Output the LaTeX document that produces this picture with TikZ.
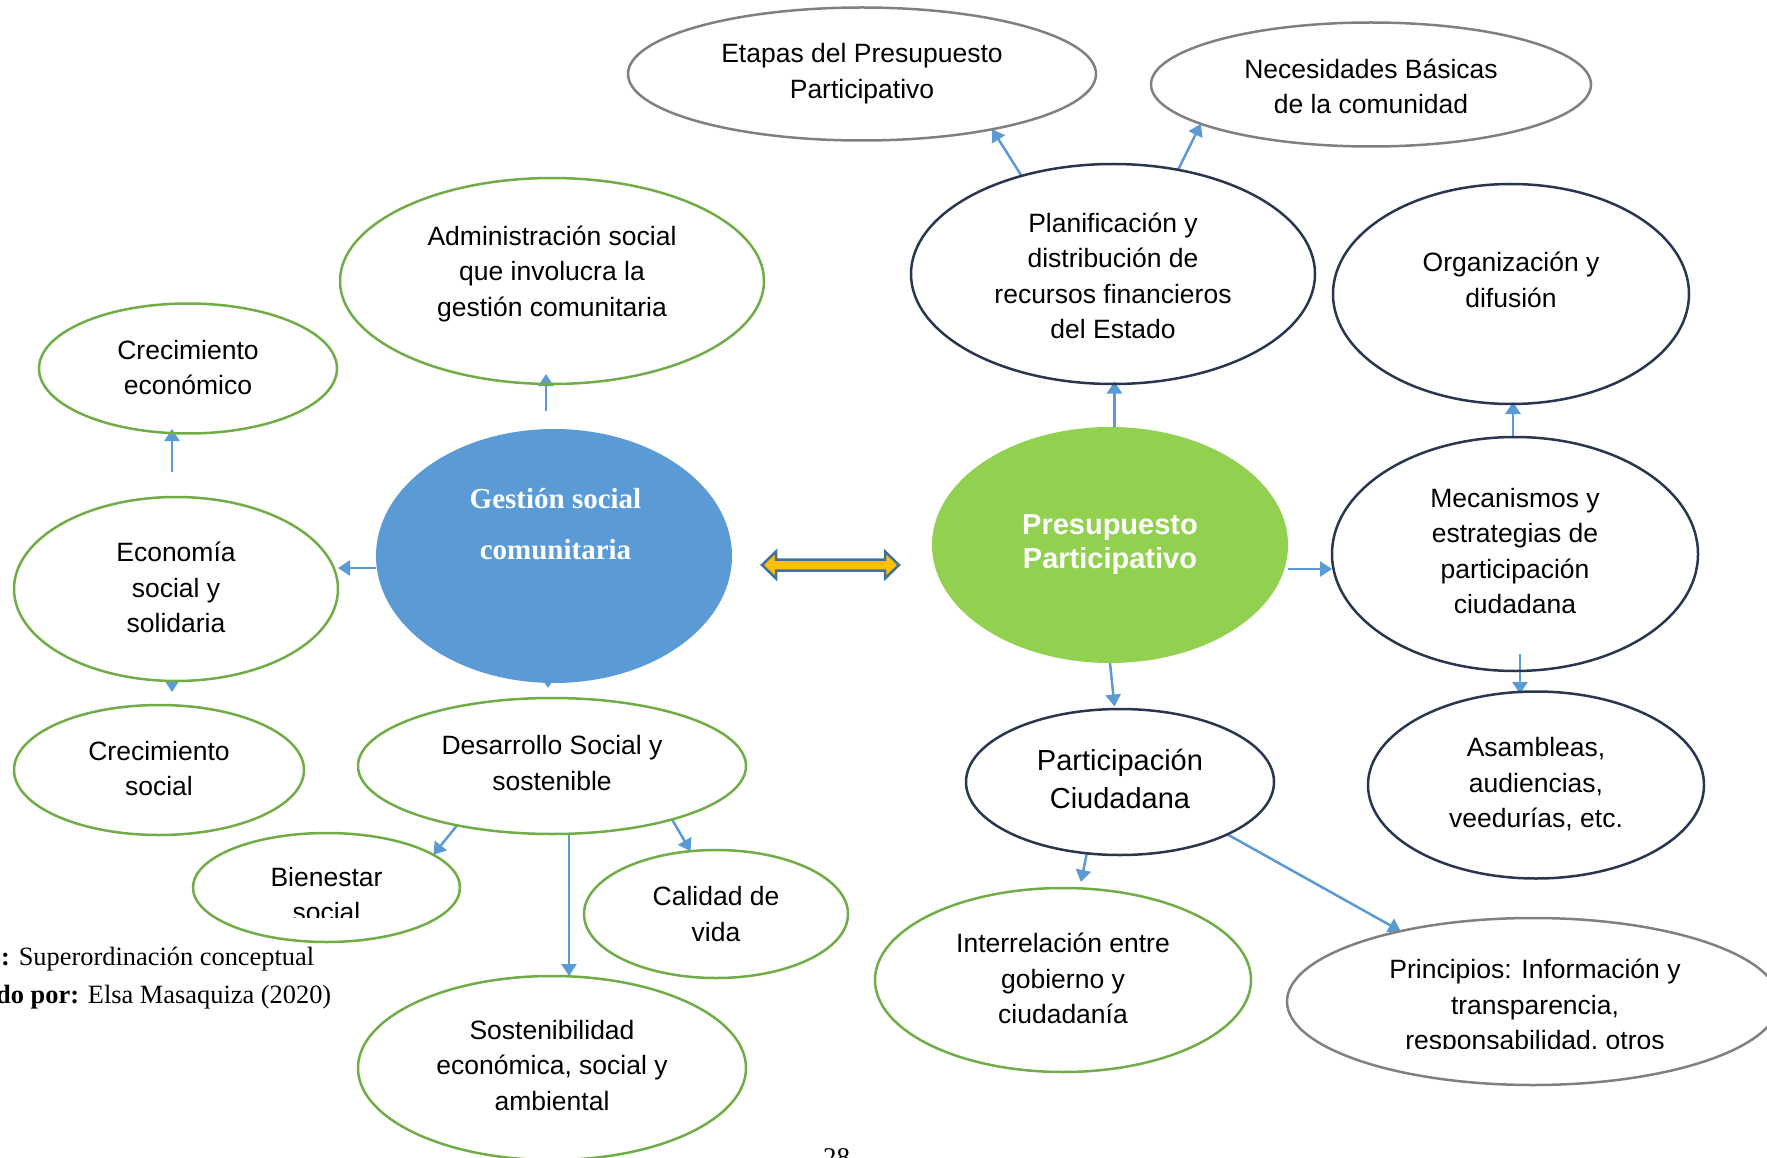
\documentclass[tikz,border=0pt]{standalone}
\usepackage{fontspec}
\setmainfont{Liberation Sans}
\newfontfamily\serifrm{Liberation Serif}
\usetikzlibrary{shapes.geometric,arrows.meta,calc}
\definecolor{grn}{HTML}{70AD47}
\definecolor{nvy}{HTML}{2A3650}
\definecolor{gry}{HTML}{808080}
\definecolor{blu}{HTML}{5B9BD5}
\definecolor{lgrn}{HTML}{92D050}
\definecolor{yel}{HTML}{FFC000}
\definecolor{dblu}{HTML}{41719C}
\pgfdeclarelayer{back}
\pgfdeclarelayer{bg}
\pgfsetlayers{back,bg,main}
\begin{document}
\begin{tikzpicture}[x=1pt,y=-1pt,
  ell/.style 2 args={ellipse, minimum width=#1pt, minimum height=#2pt, inner sep=0pt, outer sep=0pt, line width=2.5pt},
  gE/.style={draw=grn},
  nE/.style={draw=nvy},
  sE/.style={draw=gry},
  txt/.style={align=center, inner sep=0pt, font=\fontsize{26.5}{35.5}\selectfont},
  arr/.style={draw=blu, line width=2.5pt, -{Triangle[length=12pt,width=15pt]}},
  captxt/.style={anchor=base west, inner sep=0pt, font=\serifrm\fontsize{26.4}{30}\selectfont}
]
\useasboundingbox (0,0) rectangle (1767,1158);
\begin{pgfonlayer}{back}
\fill[white] (0,0) rectangle (1767,1158);
\end{pgfonlayer}

% ellipses
\node[ell={468}{133}, sE] (etap) at (862,74) {};
\node[ell={440}{124}, sE] (nec) at (1371,84.5) {};
\node[ell={424}{206}, gE] (adm) at (552,281) {};
\node[ell={298}{130}, gE] (crecE) at (188,368.5) {};
\node[ell={404}{220}, nE] (plan) at (1113,274) {};
\node[ell={356}{220}, nE] (org) at (1511,294) {};
\node[ell={356}{254}, fill=blu] (gest) at (554,556) {};
\node[ell={356}{236}, fill=lgrn] (pres) at (1110,545) {};
\node[ell={324}{184}, gE] (econ) at (176,589) {};
\node[ell={366}{234}, nE] (mec) at (1515,554) {};
\node[ell={290}{130}, gE] (crecS) at (159,770) {};
\node[ell={388}{136}, gE] (desa) at (552,766) {};
\node[ell={308}{146}, nE] (part) at (1120,782) {};
\node[ell={336}{187}, nE] (asam) at (1536,785) {};
\node[ell={267}{109}, gE] (bien) at (326.5,887.5) {};
\node[ell={264}{128}, gE] (cal) at (716,914) {};
\node[ell={376}{184}, gE] (inter) at (1063,980) {};
\node[ell={492}{167}, sE] (princ) at (1533,1001.5) {};
\node[ell={388}{184}, gE] (sost) at (552,1068) {};

% texts
\node[txt] (etapT) at (862,73.5) {Etapas del Presupuesto\\Participativo};
\node[txt] (necT) at (1371,86.5) {Necesidades Básicas\\de la comunidad};
\node[txt] (admT) at (552,273.5) {Administración social\\que involucra la\\gestión comunitaria};
\node[txt] (crecET) at (188,367.5) {Crecimiento\\económico};
\node[txt] (planT) at (1113,276) {Planificación y\\distribución de\\recursos financieros\\del Estado};
\node[txt] (orgT) at (1511,280) {Organización y\\difusión};
\node[txt, text=white, font=\serifrm\bfseries\fontsize{29}{51}\selectfont] (gestT) at (555.5,524.5) {Gestión social\\comunitaria};
\node[txt, text=white, font=\bfseries\fontsize{29}{34}\selectfont] (presT) at (1110,545) {Presupuesto\\Participativo};
\node[txt] (econT) at (176,587.5) {Economía\\social y\\solidaria};
\node[txt] (mecT) at (1515,551) {Mecanismos y\\estrategias de\\participación\\ciudadana};
\node[txt] (crecST) at (159,768.5) {Crecimiento\\social};
\node[txt] (desaT) at (552,763) {Desarrollo Social y\\sostenible};
\node[txt, font=\fontsize{29}{38.5}\selectfont] (partT) at (1120,779) {Participación\\Ciudadana};
\node[txt] (asamT) at (1536,784.5) {Asambleas,\\audiencias,\\veedurías, etc.};
\begin{scope}
\clip (0,0) rectangle (1767,917);
\node[txt] (bienT) at (326.5,894.5) {Bienestar\\social};
\end{scope}
\node[txt] (calT) at (716,914) {Calidad de\\vida};
\node[txt] (interT) at (1063,978.5) {Interrelación entre\\gobierno y\\ciudadanía};
\begin{scope}
\clip (0,0) rectangle (1767,1048);
\node[txt] (princT) at (1535,1007) {Principios: Información y\\transparencia,\\responsabilidad, otros};
\end{scope}
\node[txt] (sostT) at (552,1065.5) {Sostenibilidad\\económica, social y\\ambiental};

% double arrow
\draw[fill=yel, draw=dblu, line width=2.5pt, line join=miter]
  (762,565) -- (776,551.5) -- (776,559.5) -- (885,559.5) -- (885,551.5) -- (899,565)
  -- (885,578.5) -- (885,570.5) -- (776,570.5) -- (776,578.5) -- cycle;

% captions
\node[captxt] (cap1) at (1,965) {\textbf{:} Superordinación conceptual};
\node[captxt] (cap2) at (-4,1003) {\textbf{do por:} Elsa Masaquiza (2020)};
\node[anchor=base, inner sep=0pt, font=\serifrm\fontsize{27}{30}\selectfont] (pg) at (836.5,1166) {28};

% connectors
\begin{pgfonlayer}{bg}
\draw[arr] ([xshift=-8pt,yshift=18pt]gest.north) -- ([xshift=-6pt,yshift=10pt]adm.south);
\draw[arr] ([xshift=-4pt,yshift=25pt]econ.north) -- ([xshift=-16pt,yshift=4.5pt]crecE.south);
\draw[arr] ([yshift=-12pt]gest.west) -- ([yshift=21pt]econ.east);
\draw[arr, shorten >=13pt] ([xshift=-4pt]econ.south) -- ([xshift=13pt]crecS.north);
\draw[arr, shorten >=10pt] ([xshift=-6pt]gest.south) -- ([xshift=-4pt]desa.north);
\draw[arr] (desa.212) -- (bien.17);
\draw[arr] (desa.336) -- (cal.112);
\draw[arr] ([xshift=17pt]desa.south) -- ([xshift=17pt]sost.north);
\draw[arr] ([xshift=4.5pt]pres.north) -- ([xshift=1.5pt,yshift=2.5pt]plan.south);
\draw[arr] (plan.133) -- (etap.337);
\draw[arr] (plan.58) -- (nec.193.5);
\draw[arr] ([yshift=-24pt]pres.east) -- ([yshift=-15pt]mec.west);
\draw[arr] ([xshift=-2pt]mec.north) -- ([xshift=2pt,yshift=2pt]org.south);
\draw[arr] ([xshift=5pt,yshift=17.4pt]mec.south) -- ([xshift=-16pt,yshift=-2.5pt]asam.north);
\draw[arr] (pres.south) -- ([xshift=-5.5pt,yshift=2.5pt]part.north);
\draw[arr] (part.245) -- ([xshift=18pt,yshift=6pt]inter.north);
\draw[arr] (part.334) -- (princ.152);
\end{pgfonlayer}
\end{tikzpicture}
\end{document}
